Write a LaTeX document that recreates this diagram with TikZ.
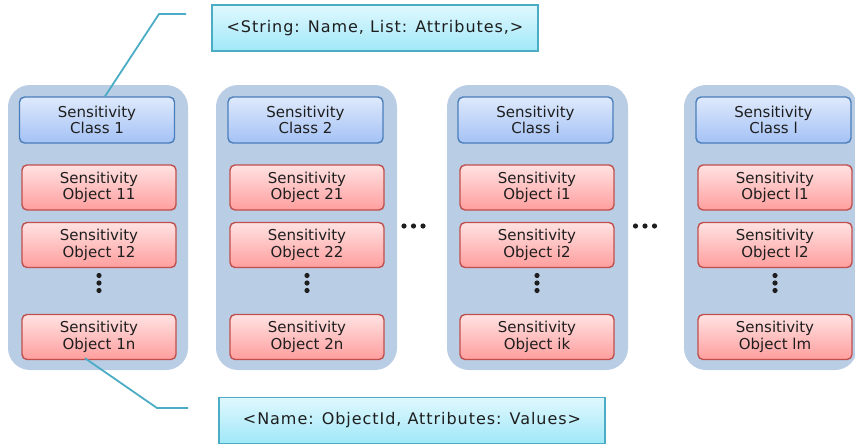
\documentclass[tikz,border=0pt]{standalone}
\usepackage{fontspec}
\setmainfont{DejaVu Sans}
\usepackage{tikz}
\usetikzlibrary{calc}
\usetikzlibrary{positioning}
\usetikzlibrary{shapes}

\definecolor{colfill}{RGB}{185,205,228}
\definecolor{clstop}{RGB}{222,233,252}
\definecolor{clsbot}{RGB}{164,194,245}
\definecolor{clsline}{RGB}{74,126,187}
\definecolor{objtop}{RGB}{255,226,226}
\definecolor{objbot}{RGB}{255,158,158}
\definecolor{objline}{RGB}{192,80,77}
\definecolor{notetop}{RGB}{224,248,254}
\definecolor{notebot}{RGB}{160,232,248}
\definecolor{noteline}{RGB}{75,172,198}
\definecolor{txt}{RGB}{30,30,30}

\begin{document}
\begin{tikzpicture}[x=1pt, y=-1pt,
  column/.style={fill=colfill, rounded corners=22pt, minimum height=285pt, inner sep=0pt},
  clsbox/.style={draw=clsline, line width=1.4pt, rounded corners=5pt, top color=clstop, bottom color=clsbot,
    minimum width=155pt, minimum height=46pt, inner sep=0pt, align=center, text=txt,
    font=\fontsize{15}{16.5}\selectfont},
  objbox/.style={draw=objline, line width=1.4pt, rounded corners=5pt, top color=objtop, bottom color=objbot,
    minimum width=154pt, minimum height=45pt, inner sep=0pt, align=center, text=txt,
    font=\fontsize{15}{16.5}\selectfont},
  notebox/.style={draw=noteline, line width=1.8pt, top color=notetop, bottom color=notebot,
    minimum height=46pt, inner sep=0pt, text=txt,
    font=\fontsize{16}{18}\selectfont\addfontfeatures{LetterSpace=6}},
  leader/.style={draw=noteline, line width=1.8pt},
  dot/.style={fill=txt}]
\useasboundingbox (0,0) rectangle (855,445);

% columns
\node[column, minimum width=180pt] (col1) at (98,227.5) {};
\node[column, minimum width=181pt] (col2) at (306.5,227.5) {};
\node[column, minimum width=181pt] (col3) at (537.5,227.5) {};
\node[column, minimum width=173pt] (col4) at (770.5,227.5) {};

% classes
\node[clsbox] (c1) at (97,120) {Sensitivity\\Class 1};
\node[clsbox] (c2) at (305.5,120) {Sensitivity\\Class 2};
\node[clsbox] (c3) at (535.5,120) {Sensitivity\\Class i};
\node[clsbox] (c4) at (773.5,120) {Sensitivity\\Class l};

% objects
\node[objbox] (o11) at (99,187.5) {Sensitivity\\Object 11};
\node[objbox] (o12) at (99,245) {Sensitivity\\Object 12};
\node[objbox] (o1n) at (99,337) {Sensitivity\\Object 1n};
\node[objbox] (o21) at (307,187.5) {Sensitivity\\Object 21};
\node[objbox] (o22) at (307,245) {Sensitivity\\Object 22};
\node[objbox] (o2n) at (307,337) {Sensitivity\\Object 2n};
\node[objbox] (oi1) at (537,187.5) {Sensitivity\\Object i1};
\node[objbox] (oi2) at (537,245) {Sensitivity\\Object i2};
\node[objbox] (oik) at (537,337) {Sensitivity\\Object ik};
\node[objbox] (ol1) at (775,187.5) {Sensitivity\\Object l1};
\node[objbox] (ol2) at (775,245) {Sensitivity\\Object l2};
\node[objbox] (olm) at (775,337) {Sensitivity\\Object lm};

% dots
\coordinate (d1) at (99,283);
\coordinate (d2) at (307,283);
\coordinate (d3) at (537,283);
\coordinate (d4) at (775,283);
\coordinate (h1) at (413.5,226);
\coordinate (h2) at (645,226);
\fill[dot] (d1) ++(0,-7.5) circle (2.6pt) (d1) circle (2.6pt) (d1) ++(0,7.5) circle (2.6pt);
\fill[dot] (d2) ++(0,-7.5) circle (2.6pt) (d2) circle (2.6pt) (d2) ++(0,7.5) circle (2.6pt);
\fill[dot] (d3) ++(0,-7.5) circle (2.6pt) (d3) circle (2.6pt) (d3) ++(0,7.5) circle (2.6pt);
\fill[dot] (d4) ++(0,-7.5) circle (2.6pt) (d4) circle (2.6pt) (d4) ++(0,7.5) circle (2.6pt);
\fill[dot] (h1) ++(-9.5,0) circle (2.6pt) (h1) circle (2.6pt) (h1) ++(9.5,0) circle (2.6pt);
\fill[dot] (h2) ++(-9.5,0) circle (2.6pt) (h2) circle (2.6pt) (h2) ++(9.5,0) circle (2.6pt);

% notes
\node[notebox, minimum width=326pt] (top) at (375,28) {<String: Name, List: Attributes,>};
\node[notebox, minimum width=386pt] (bottom) at (412,420.5) {<Name: ObjectId, Attributes: Values>};

% leader lines
\coordinate (tbend) at (159,14);
\coordinate (tend) at (186,14);
\coordinate (bbend) at (157,408);
\coordinate (bend) at (188,408);
\draw[leader] ($(c1.north)+(8,0)$) -- (tbend) -- (tend);
\draw[leader] ($(o1n.south)+(-14,-2)$) -- (bbend) -- (bend);
\end{tikzpicture}
\end{document}
